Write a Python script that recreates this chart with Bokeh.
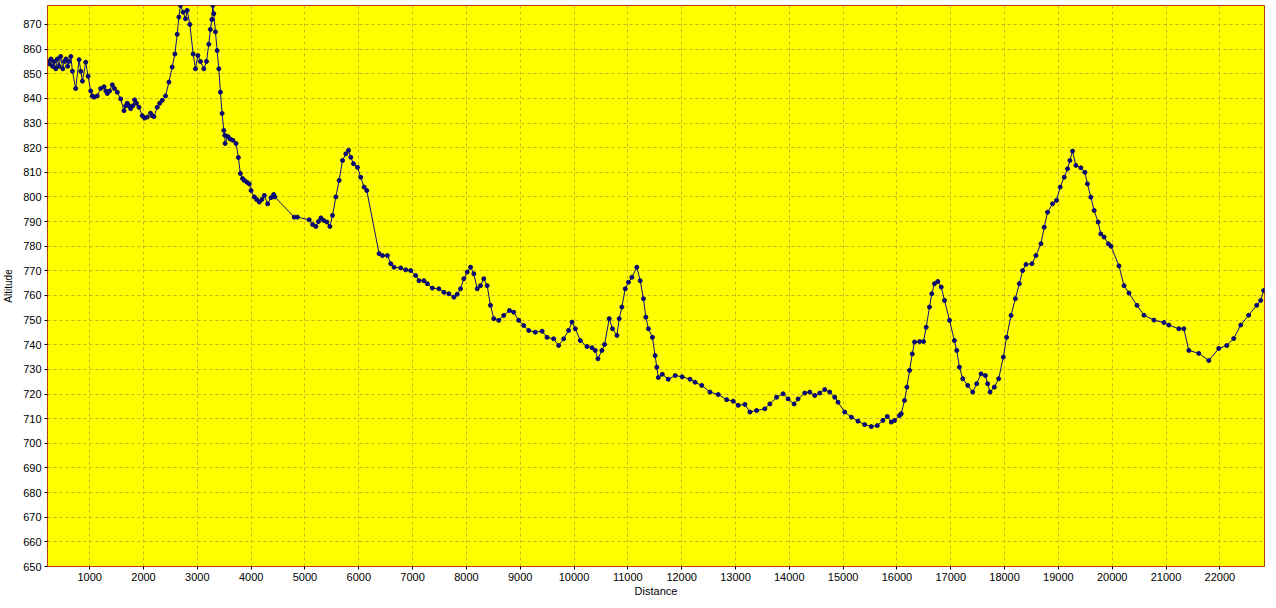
from bokeh.plotting import figure
from bokeh.models import Range1d, SingleIntervalTicker, ColumnDataSource
from bokeh.embed import file_html
from bokeh.resources import INLINE

distance = [216, 247, 280, 310, 340, 370, 400, 430, 460, 500, 530, 560, 590, 618, 650, 679, 740, 803, 835, 865,
            926, 970, 1019, 1050, 1081, 1140, 1204, 1266, 1300, 1328, 1370, 1421, 1460, 1513, 1575, 1637, 1670, 1699,
            1730, 1761, 1800, 1835, 1870, 1916, 1977, 2020, 2070, 2131, 2160, 2194, 2255, 2300, 2348, 2409, 2472,
            2533, 2583, 2626, 2657, 2687, 2737, 2780, 2811, 2861, 2923, 2965, 3010, 3058, 3121, 3170, 3213, 3243,
            3270, 3288, 3306, 3337, 3368, 3399, 3429, 3460, 3492, 3510, 3516, 3566, 3610, 3659, 3720, 3763, 3800,
            3840, 3874, 3920, 3966, 3998, 4059, 4100, 4152, 4200, 4245, 4307, 4369, 4418, 4440, 4801, 4860, 5079,
            5142, 5203, 5250, 5296, 5345, 5407, 5463, 5512, 5574, 5635, 5698, 5760, 5810, 5852, 5902, 5976, 6037,
            6099, 6149, 6377, 6440, 6532, 6594, 6655, 6779, 6872, 6964, 7057, 7119, 7211, 7274, 7366, 7489, 7582,
            7674, 7767, 7830, 7891, 7952, 8015, 8077, 8138, 8201, 8262, 8323, 8386, 8447, 8509, 8601, 8694, 8800,
            8879, 8972, 9065, 9158, 9281, 9406, 9498, 9621, 9714, 9807, 9899, 9962, 10023, 10116, 10240, 10333,
            10394, 10444, 10518, 10567, 10654, 10715, 10797, 10840, 10889, 10951, 11012, 11075, 11167, 11229,
            11290, 11334, 11382, 11457, 11506, 11538, 11566, 11640, 11751, 11880, 12010, 12155, 12248, 12372,
            12526, 12680, 12836, 12958, 13051, 13175, 13268, 13392, 13546, 13639, 13763, 13885, 13978, 14089,
            14163, 14287, 14380, 14473, 14566, 14658, 14751, 14844, 14905, 15029, 15153, 15276, 15400, 15524,
            15635, 15739, 15821, 15895, 15956, 16049, 16080, 16141, 16185, 16235, 16285, 16327, 16420, 16494,
            16544, 16605, 16648, 16698, 16760, 16823, 16884, 16977, 17068, 17111, 17161, 17223, 17315, 17408,
            17482, 17563, 17643, 17686, 17730, 17810, 17890, 17977, 18038, 18120, 18200, 18274, 18335, 18398,
            18509, 18583, 18676, 18737, 18799, 18891, 18965, 19034, 19108, 19170, 19214, 19263, 19325, 19418,
            19492, 19540, 19603, 19664, 19738, 19788, 19849, 19929, 19978, 20126, 20219, 20312, 20460, 20590,
            20775, 20960, 21053, 21238, 21331, 21424, 21609, 21795, 21980, 22129, 22258, 22388, 22536, 22685,
            22759, 22815]

altitude = [855, 854, 856, 853, 855, 852, 856, 853, 857, 852, 855, 856, 853, 855, 857, 851, 844, 855.7, 851, 847,
            854.7, 849, 843, 841, 840.5, 841, 844, 844.7, 843, 842, 843, 845.5, 844, 842.5, 839.8, 835, 837, 838,
            837, 835.8, 837, 839.4, 838, 836.4, 833, 832, 832.4, 834, 833, 832.6, 836.4, 838, 839.2, 841, 846.6,
            852.7, 858, 866, 873, 877.7, 875, 872.3, 875.7, 870, 858, 852, 857.4, 855, 852, 855, 862, 868,
            872, 877.7, 874.4, 867, 859.4, 852, 842.5, 833.9, 827, 825, 821.7, 824.5, 823.5, 823, 821.7, 816, 809.5,
            807.5, 806.7, 806, 805.3, 802.6, 800, 799, 797.9, 799, 800.6, 797.2, 799.7, 801, 800, 791.8, 791.8, 790.7,
            788.8, 788, 790, 791.5, 790.5, 789.8, 788, 792.5, 800, 806.7, 814.8, 817.5, 818.9, 816.1, 813.5, 812, 808,
            804, 802.6, 777, 776.2, 776.2, 772.9, 771.5, 771.2, 770.4, 770.1, 768.1, 766, 766, 764.8, 763, 762.7, 761.3,
            760.7, 759.3, 760.5, 762.7, 766.8, 769.5, 771.5, 768.8, 762.7, 764, 766.8, 764, 756, 750.6, 749.9, 751.9, 753.9,
            753.2, 749.9, 747.8, 745.8, 745.1, 745.5, 743, 742.4, 739.7, 742.4, 745.8, 749.2, 746.5, 741.7, 739.3, 738.8,
            737.7, 734.3, 737.7, 740.1, 750.6, 746.5, 743.8, 750.6, 755.3, 762.7, 765.4, 767.4, 771.5, 766,
            758.7, 751.2, 746.5, 743, 735.6, 730.9, 726.7, 728, 726, 727.5, 727, 726, 724.8, 723.5,
            720.8, 719.8, 717.7, 717.1, 715.4, 715.8, 712.7, 713.3, 714, 716, 718.7, 720.1, 718, 716,
            718, 720.4, 720.8, 719.4, 720.4, 721.8, 720.8, 718.7, 716.7, 712.7, 710.6, 709, 707.6, 706.8,
            707.2, 709.3, 710.9, 708.6, 709.3, 711.3, 712, 717.4, 722.8, 729.6, 736.3, 741.1, 741.3, 741.3,
            747.1, 755.3, 760.7, 764.8, 765.7, 763.4, 758, 749.9, 741.7, 737.7, 730.9, 726.2, 723.5, 720.8,
            724.2, 728.2, 727.5, 724.2, 720.8, 722.8, 726.2, 735, 743, 751.9, 758.7, 764.8, 770.1, 772.6,
            772.9, 776.2, 781, 787.7, 793.8, 797.2, 798.6, 804, 808, 811.4, 814.8, 818.6, 812.8, 811.8,
            810, 805.3, 799.9, 794.5, 789.8, 785, 783.7, 781, 780, 772, 764, 761, 756, 752,
            750, 749, 748, 746.5, 746.5, 737.7, 736.5, 733.6, 738.5, 739.7, 742.5, 748, 752, 756,
            758, 762]

x_label = "Distance"
y_label = "Altitude"

source = ColumnDataSource(dict(d=distance, a=altitude))

p = figure(width=1266, height=600, output_backend="svg", toolbar_location=None,
           x_range=Range1d(216, 22830), y_range=Range1d(650, 877.7),
           min_border_left=44, min_border_right=2, min_border_top=5, min_border_bottom=34)

p.background_fill_color = "#ffff00"
p.border_fill_color = "white"
p.outline_line_color = "#b84000"
p.outline_line_width = 1

p.xaxis.ticker = SingleIntervalTicker(interval=1000)
p.yaxis.ticker = SingleIntervalTicker(interval=10)
p.xaxis.minor_tick_line_color = None
p.yaxis.minor_tick_line_color = None

for ax in (p.xaxis[0], p.yaxis[0]):
    ax.axis_line_color = "#b84000"
    ax.major_tick_line_color = "black"
    ax.major_tick_in = 0
    ax.major_tick_out = 3
    ax.major_label_text_font = "Liberation Sans"
    ax.major_label_text_font_size = "11px"
    ax.major_label_text_color = "black"
    ax.axis_label_text_font = "Liberation Sans"
    ax.axis_label_text_font_size = "10px"
    ax.axis_label_text_font_style = "normal"
    ax.axis_label_text_color = "black"
    ax.major_label_standoff = 2

p.xaxis.axis_label = x_label
p.yaxis.axis_label = y_label
p.xaxis.axis_label_standoff = 1
p.yaxis.axis_label_standoff = 6
p.xaxis.axis_label_text_font_size = "11px"

p.xgrid.grid_line_color = "#c8b428"
p.ygrid.grid_line_color = "#c8b428"
p.xgrid.grid_line_dash = "3 3"
p.ygrid.grid_line_dash = "3 3"
p.xgrid.grid_line_width = 1
p.ygrid.grid_line_width = 1

p.line("d", "a", source=source, line_color="#10107a", line_width=1)
p.scatter("d", "a", source=source, marker="circle", size=4,
          fill_color="#0a0a70", line_color="#0a0a70")

open("out.html", "w").write(file_html(p, INLINE))
